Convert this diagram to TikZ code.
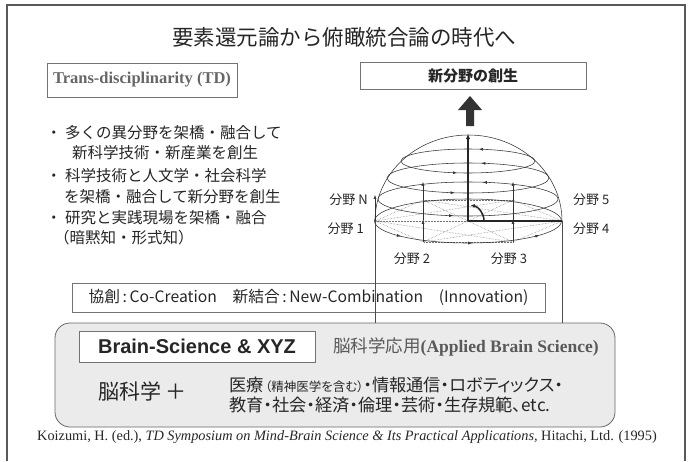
\documentclass[tikz,border=0pt]{standalone}
\usepackage{fontspec}
\setmainfont{Liberation Serif}
\newfontfamily\jpfont{Noto Sans CJK JP}
\newfontfamily\jppfont[RawFeature=+palt]{Noto Sans CJK JP}
\newfontfamily\arialfont{Liberation Sans}
\newcommand{\fsz}[2]{\fontsize{#1}{#2}\selectfont}
\usetikzlibrary{arrows.meta,decorations.markings}
\tikzset{
  box/.style={draw=black!55, line width=0.8pt, inner sep=0pt},
  ring/.style={draw=black!80, line width=0.55pt},
  tip/.style={-{Latex[length=3.8pt,width=3pt]}},
  ringmarks/.style={postaction={decorate}, decoration={markings,
    mark=at position .21 with {\arrow{Latex[length=3.8pt,width=3pt]}},
    mark=at position .71 with {\arrow{Latex[length=3.8pt,width=3pt]}}}},
  basemarks/.style={postaction={decorate}, decoration={markings,
    mark=at position .58 with {\arrow{Latex[length=3.8pt,width=3pt]}},
    mark=at position .76 with {\arrow{Latex[length=3.8pt,width=3pt]}},
    mark=at position .93 with {\arrow{Latex[length=3.8pt,width=3pt]}}}},
  axis/.style={draw=black!85, line width=1.5pt},
  lbl/.style={font=\jpfont\fsz{13}{15}, inner sep=0pt},
  bul/.style={anchor=west, font=\jpfont\fsz{15.5}{18}, inner sep=0pt},
}
\begin{document}
\begin{tikzpicture}[x=1pt, y=1pt, every node/.style={text=black!85}]
\useasboundingbox (0,0) rectangle (688,-461);
\draw[black!65, line width=2pt] (7,-461) -- (7,-5) -- (685,-5) -- (685,-461);

\node[font=\jpfont\fsz{21.5}{26}, inner sep=0pt] (title) at (344,-37) {要素還元論から俯瞰統合論の時代へ};
\node[box, minimum width=190, minimum height=34, font=\bfseries\fsz{16.5}{20}, text=black!60] (td) at (142,-80) {Trans-disciplinarity (TD)};
\node[box, minimum width=226, minimum height=27, font=\jpfont\bfseries\fsz{15}{18}] (newf) at (473,-75.5) {新分野の創生};

\node[bul] (b1) at (46,-133) {・\ 多くの異分野を架橋・融合して};
\node[bul] (b1a) at (72,-153) {新科学技術・新産業を創生};
\node[bul] (b2) at (46,-176) {・\ 科学技術と人文学・社会科学};
\node[bul] (b2a) at (64,-197) {を架橋・融合して新分野を創生};
\node[bul] (b3) at (46,-218) {・\ 研究と実践現場を架橋・融合};
\node[bul] (b3a) at (54,-238) {（暗黙知・形式知）};

% block arrow above the dome
\fill[black!80] (466,-126) -- (466,-110) -- (458,-110) -- (470,-96) -- (482,-110) -- (474,-110) -- (474,-126) -- cycle;

% hemisphere
\coordinate (O) at (468,-221);
\coordinate (P1) at (375,-221);
\coordinate (PN) at (423,-200);
\coordinate (P5) at (513,-200);
\coordinate (P4) at (562,-221);
\coordinate (P3) at (513,-242);
\coordinate (P2) at (423,-242);
\foreach \a/\b in {P1/PN,P1/P5,P1/P4,P1/P3,P1/P2,PN/P5,PN/P4,PN/P3,PN/P2,P5/P4,P5/P3,P5/P2,P4/P3,P4/P2,P3/P2}
  \draw[black!55, densely dotted, line width=0.5pt] (\a) -- (\b);
\draw[ring] (P1) arc[start angle=180, end angle=0, x radius=93.5, y radius=86];
\foreach \cy/\rx/\ry in {199/90/17,178/81/15,161/67/12}
  \draw[ring, ringmarks] (468,-\cy) ellipse[x radius=\rx, y radius=\ry];
\draw[ring, basemarks] (O) ellipse[x radius=93.5, y radius=22];
\foreach \p in {P2,P3} {
  \draw[ring, tip] (\p) -- ++(0,22);
  \draw[ring, tip] ([yshift=22pt]\p) -- ++(0,38);
}
\draw[ring, tip] (P1) -- ++(0,26);
\draw[axis, -{Latex[length=5pt,width=4.5pt]}] (O) -- (468,-134);
\draw[axis] (O) -- (P4);
\draw[axis, -{Latex[length=4pt,width=4pt]}] ([xshift=16pt]O) arc[start angle=0, end angle=80, radius=16];

\node[lbl, anchor=east] (lN) at (368,-200) {分野 N};
\node[lbl, anchor=east] (l1) at (364,-229) {分野 1};
\node[lbl, anchor=west] (l5) at (573,-200) {分野 5};
\node[lbl, anchor=west] (l4) at (573,-229) {分野 4};
\node[lbl] (l2) at (412,-259) {分野 2};
\node[lbl] (l3) at (509,-259) {分野 3};

% lower boxes
\node[draw=black!60, line width=0.8pt, fill=black!8, rounded corners=15pt, minimum width=560, minimum height=104] (gray) at (335,-375) {};
\node[box, minimum width=473, minimum height=29, font=\jpfont\fsz{15.7}{19}] (cocr) at (308.5,-297.5) {協創\,:\,Co-Creation\quad 新結合\,:\,New-Combination\quad (Innovation)};
\draw[black!70, line width=0.7pt] (P1) -- (P1 |- gray.north);
\draw[black!70, line width=0.7pt] (P4) -- (P4 |- gray.north);

\node[box, fill=white, minimum width=236, minimum height=31, font=\arialfont\bfseries\fsz{20}{24}] (bsx) at (197,-346.5) {Brain-Science \& XYZ};
\node[anchor=west, inner sep=0pt, text=black!65, font=\fsz{17.5}{20}] (abs) at (333,-347) {{\jpfont 脳科学応用}\textbf{(Applied Brain Science)}};
\node[anchor=west, inner sep=0pt, font=\jpfont\fsz{21}{25}] (nks) at (98,-391) {脳科学\hspace{4pt}＋};
\node[anchor=west, inner sep=0pt, align=left, font=\jppfont\fsz{17.2}{19.5}] (apps) at (229,-395) {医療\hspace{1.5pt}{\fsz{12.5}{14}（精神医学を含む）}・情報通信・ロボティックス・\\教育・社会・経済・倫理・芸術・生存規範、etc.};

\node[inner sep=0pt, font=\fsz{14.3}{16}] (cite) at (347,-437) {Koizumi, H. (ed.), \textit{TD Symposium on Mind-Brain Science \& Its Practical Applications,} Hitachi, Ltd. (1995)};
\end{tikzpicture}
\end{document}
